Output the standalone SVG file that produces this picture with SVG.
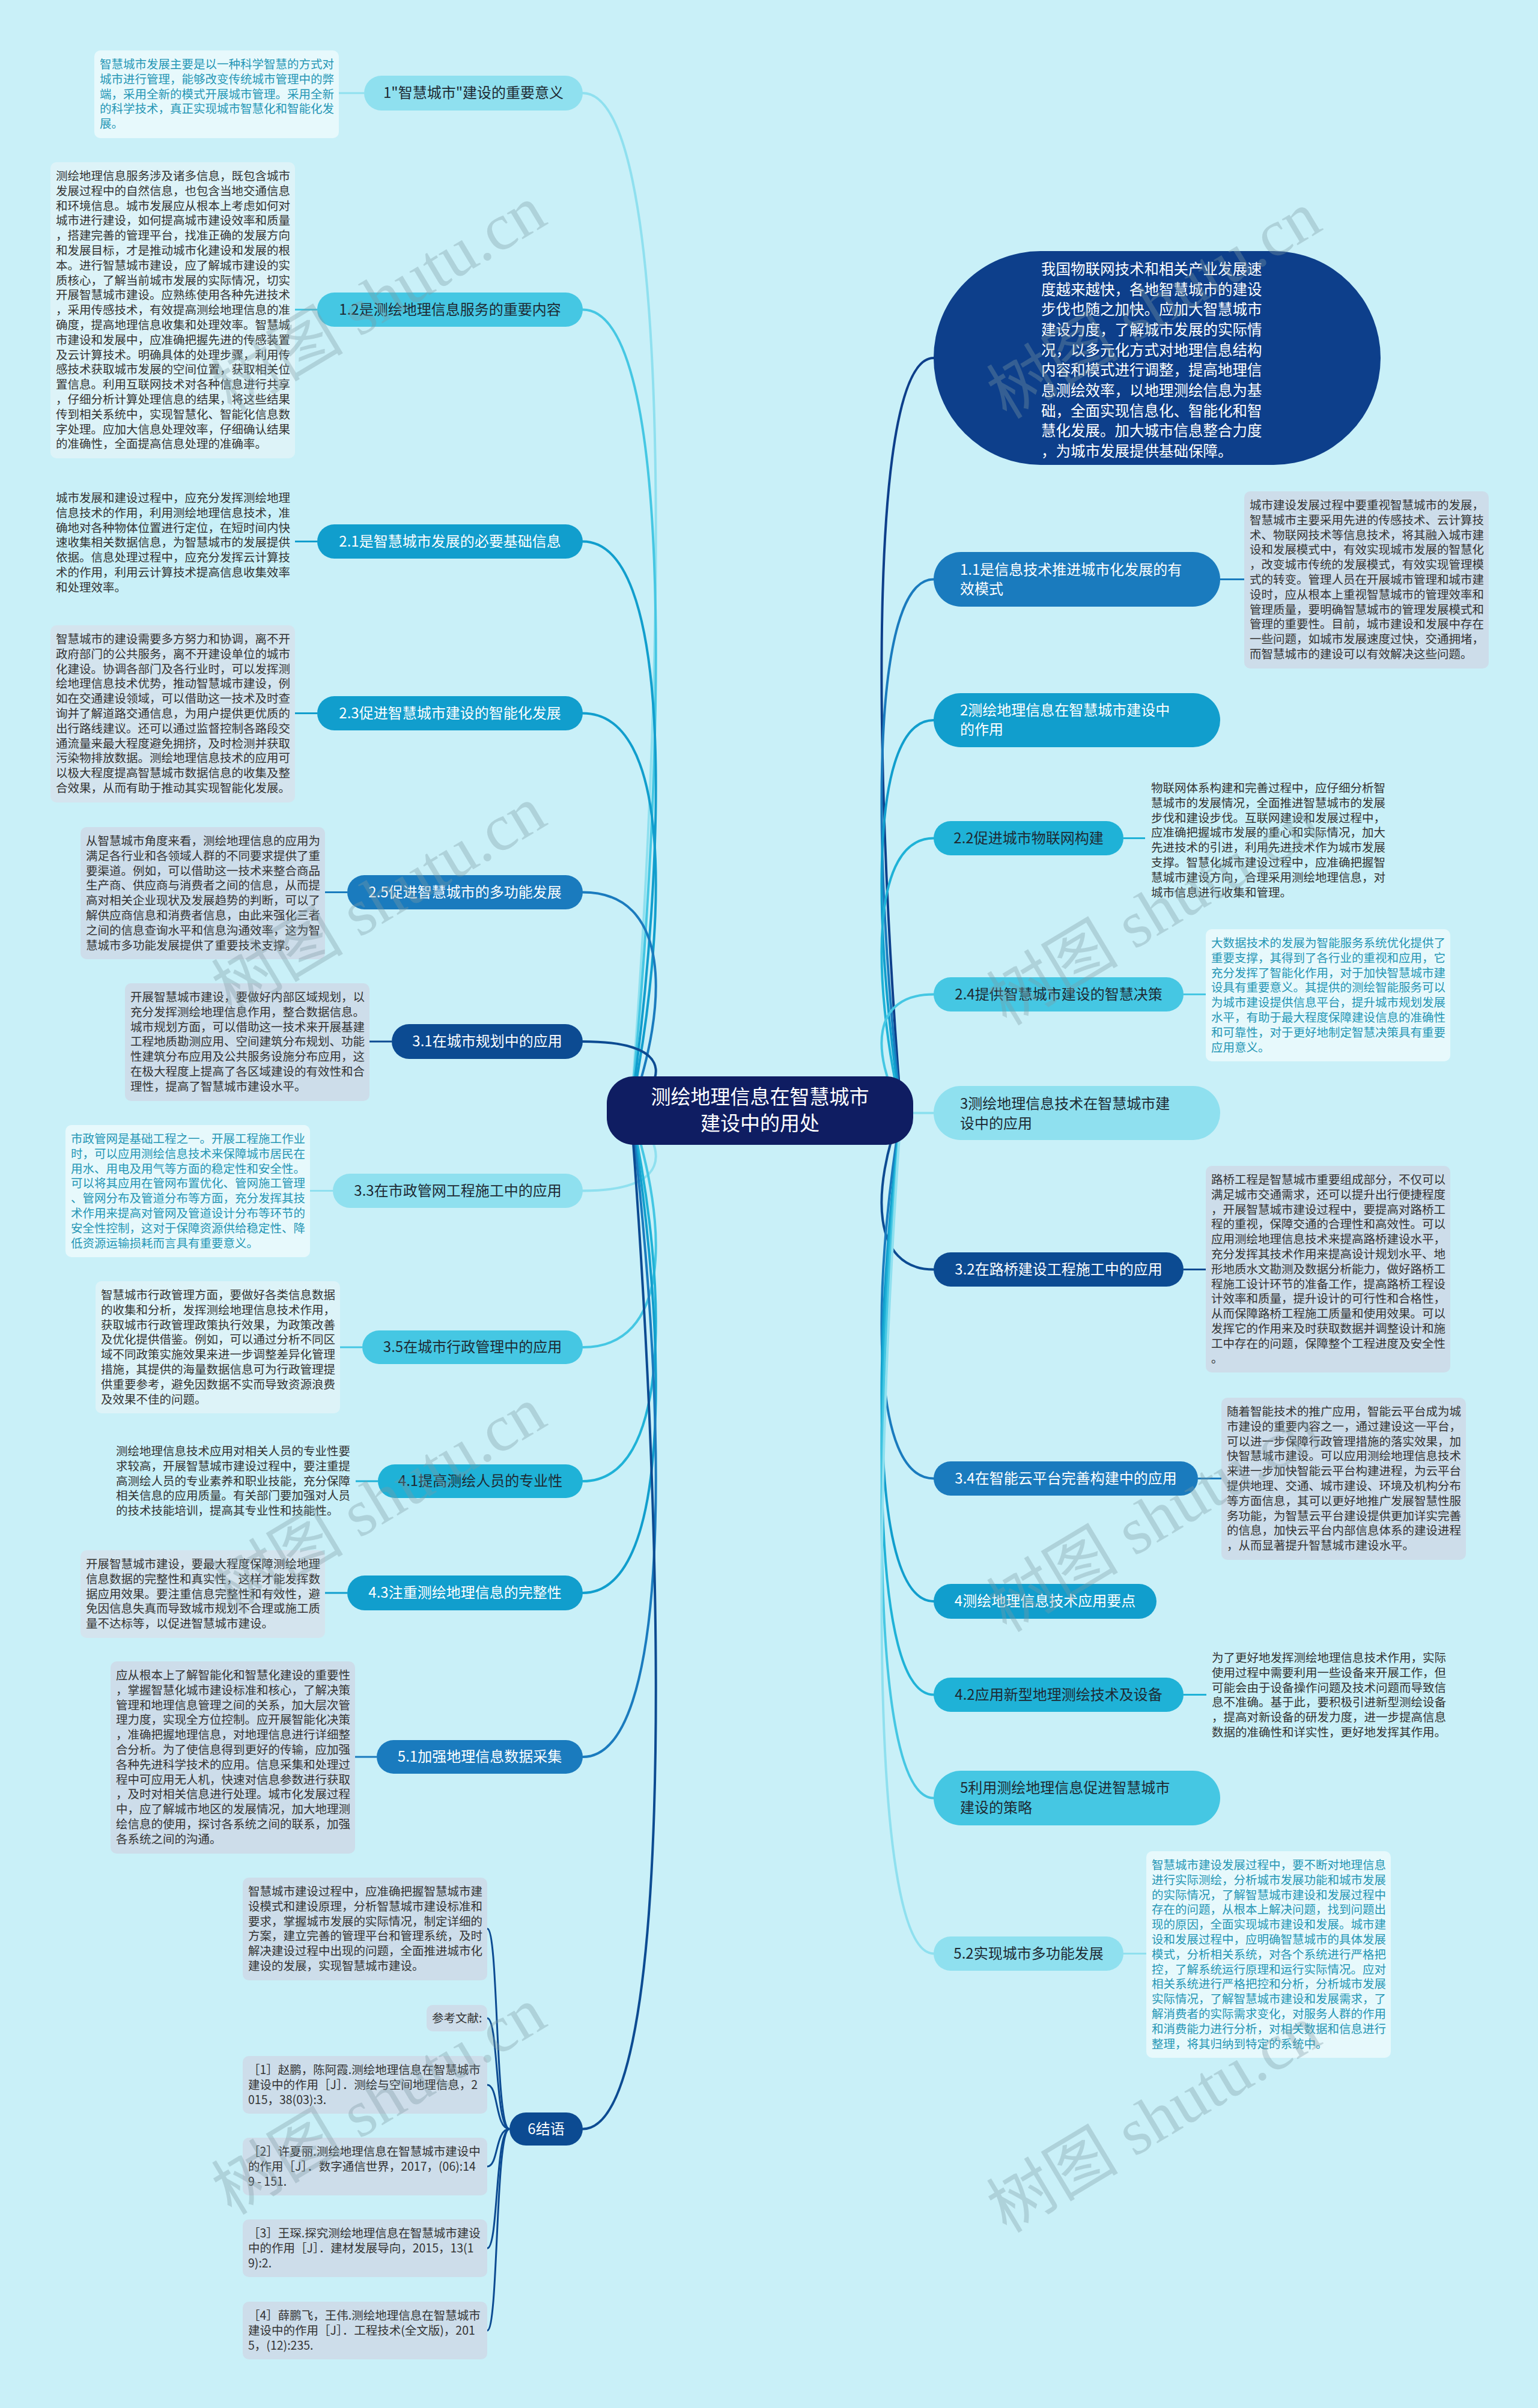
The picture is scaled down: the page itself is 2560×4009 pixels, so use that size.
<svg xmlns="http://www.w3.org/2000/svg" width="2560" height="4009" viewBox="0 0 2560 4009">
<style>
.d{font-family:"Noto Sans CJK SC","Noto Sans",sans-serif;font-size:19.5px}
.dk{fill:#333333}
.tl{fill:#2596b5}
.n{font-family:"Noto Sans CJK SC","Noto Sans",sans-serif;font-size:24px}
.c{text-anchor:middle}
.w{fill:#ffffff}
.b{fill:#1e2a33}
.navy{fill:#0c4b92}
.blue{fill:#1a7bbe}
.mid{fill:#119ecd}
.cyan{fill:#1fb2d7}
.light{fill:#45c7e3}
.pale{fill:#8fe0ef}
.bg{fill:#cdddea}
.bm{fill:#d4e4ee}
.bl{fill:#ddf3f8}
.bp{fill:#e7f9fc}
.ln{fill:none;stroke-width:4;stroke-linecap:round}
.sl{fill:none;stroke-width:3}
.wm{font-family:"Liberation Serif","Noto Sans CJK SC",serif;font-size:110px;fill:#7f9ba4;opacity:0.35}
</style>
<rect x="0" y="0" width="2560" height="4009" fill="#c9f0f8"/>

<g id="connectors">
<path class="ln" stroke="#8fe0ef" d="M1050,1849 C1115,1002 1115,155 970,155"/>
<path class="ln" stroke="#45c7e3" d="M1050,1849 C1115,1182 1115,515.5 970,515.5"/>
<path class="ln" stroke="#119ecd" d="M1050,1849 C1115,1375 1115,901.5 970,901.5"/>
<path class="ln" stroke="#119ecd" d="M1050,1849 C1115,1518 1115,1187.5 970,1187.5"/>
<path class="ln" stroke="#1a7bbe" d="M1050,1849 C1115,1667 1115,1485.5 970,1485.5"/>
<path class="ln" stroke="#0c4b92" d="M1050,1849 C1115,1791 1115,1734 970,1734"/>
<path class="ln" stroke="#8fe0ef" d="M1050,1849 C1115,1916 1115,1982.5 970,1982.5"/>
<path class="ln" stroke="#45c7e3" d="M1050,1849 C1115,2046 1115,2243 970,2243"/>
<path class="ln" stroke="#1fb2d7" d="M1050,1849 C1115,2157 1115,2466 970,2466"/>
<path class="ln" stroke="#119ecd" d="M1050,1849 C1115,2250 1115,2652 970,2652"/>
<path class="ln" stroke="#1a7bbe" d="M1050,1849 C1115,2387 1115,2925 970,2925"/>
<path class="ln" stroke="#0c4b92" d="M1050,1849 C1115,2697 1115,3544.5 970,3544.5"/>

<path class="ln" stroke="#0d3f8b" d="M1500,1849 C1450,1222 1450,596 1554,596"/>
<path class="ln" stroke="#1a7bbe" d="M1500,1849 C1450,1407 1450,964.5 1554,964.5"/>
<path class="ln" stroke="#119ecd" d="M1500,1849 C1450,1524 1450,1199 1554,1199"/>
<path class="ln" stroke="#1fb2d7" d="M1500,1849 C1450,1622 1450,1395.5 1554,1395.5"/>
<path class="ln" stroke="#45c7e3" d="M1500,1849 C1450,1752 1450,1655.5 1554,1655.5"/>
<path class="ln" stroke="#8fe0ef" d="M1500,1849 C1450,1851 1450,1853 1554,1853"/>
<path class="ln" stroke="#0c4b92" d="M1500,1849 C1450,1981 1450,2113.5 1554,2113.5"/>
<path class="ln" stroke="#1a7bbe" d="M1500,1849 C1450,2155 1450,2461.5 1554,2461.5"/>
<path class="ln" stroke="#119ecd" d="M1500,1849 C1450,2257 1450,2666 1554,2666"/>
<path class="ln" stroke="#1fb2d7" d="M1500,1849 C1450,2335 1450,2821.5 1554,2821.5"/>
<path class="ln" stroke="#45c7e3" d="M1500,1849 C1450,2421 1450,2993.5 1554,2993.5"/>
<path class="ln" stroke="#8fe0ef" d="M1500,1849 C1450,2551 1450,3252.5 1554,3252.5"/>

<path class="sl" stroke="#8fe0ef" d="M564,155 H606"/>
<path class="sl" stroke="#45c7e3" d="M491,515.5 H528"/>
<path class="sl" stroke="#119ecd" d="M491,901.5 H528"/>
<path class="sl" stroke="#119ecd" d="M491,1187.5 H528"/>
<path class="sl" stroke="#1a7bbe" d="M541,1485.5 H578"/>
<path class="sl" stroke="#0c4b92" d="M615,1734 H652"/>
<path class="sl" stroke="#8fe0ef" d="M516,1982.5 H554"/>
<path class="sl" stroke="#45c7e3" d="M566,2243 H603"/>
<path class="sl" stroke="#1fb2d7" d="M592,2466 H629"/>
<path class="sl" stroke="#119ecd" d="M541,2652 H578"/>
<path class="sl" stroke="#1a7bbe" d="M591,2925 H627"/>
<path class="sl" stroke="#1a7bbe" d="M2031,964.5 H2071"/>
<path class="sl" stroke="#1fb2d7" d="M1870,1395.5 H1906"/>
<path class="sl" stroke="#45c7e3" d="M1970,1655.5 H2007"/>
<path class="sl" stroke="#0c4b92" d="M1970,2113.5 H2007"/>
<path class="sl" stroke="#1a7bbe" d="M1994,2461.5 H2033"/>
<path class="sl" stroke="#1fb2d7" d="M1970,2821.5 H2008"/>
<path class="sl" stroke="#8fe0ef" d="M1870,3252.5 H1908"/>

<path class="sl" stroke="#0c4b92" d="M848,3544.5 C824,3544.5 830,3211 811,3211"/>
<path class="sl" stroke="#0c4b92" d="M848,3544.5 C824,3544.5 830,3360 811,3360"/>
<path class="sl" stroke="#0c4b92" d="M848,3544.5 C824,3544.5 830,3471 811,3471"/>
<path class="sl" stroke="#0c4b92" d="M848,3544.5 C824,3544.5 830,3607 811,3607"/>
<path class="sl" stroke="#0c4b92" d="M848,3544.5 C824,3544.5 830,3743 811,3743"/>
<path class="sl" stroke="#0c4b92" d="M848,3544.5 C824,3544.5 830,3880 811,3880"/>
</g>

<g id="center">
<rect x="1010" y="1792" width="510" height="114" rx="45" fill="#0f1d62"/>
<text class="n c w" style="font-size:33px" x="1265" y="1838">测绘地理信息在智慧城市</text>
<text class="n c w" style="font-size:33px" x="1265" y="1882">建设中的用处</text>
</g>

<g id="n1">
<rect class="pale" x="606" y="126" width="364" height="58" rx="29"/>
<text class="n c b" x="788" y="163">1"智慧城市"建设的重要意义</text>
</g>
<g id="d1">
<rect class="bp" x="157" y="84" width="407" height="146" rx="10"/>
<text class="d tl" x="166" y="114"><tspan x="166" dy="0">智慧城市发展主要是以一种科学智慧的方式对</tspan><tspan x="166" dy="24.8">城市进行管理，能够改变传统城市管理中的弊</tspan><tspan x="166" dy="24.8">端，采用全新的模式开展城市管理。采用全新</tspan><tspan x="166" dy="24.8">的科学技术，真正实现城市智慧化和智能化发</tspan><tspan x="166" dy="24.8">展。</tspan></text>
</g>

<g id="n1-2">
<rect class="light" x="528" y="487" width="442" height="57" rx="28.5"/>
<text class="n c b" x="749" y="523.5">1.2是测绘地理信息服务的重要内容</text>
</g>
<g id="d1-2">
<rect class="bl" x="84" y="270" width="407" height="493" rx="10"/>
<text class="d dk" x="93" y="300"><tspan x="93" dy="0">测绘地理信息服务涉及诸多信息，既包含城市</tspan><tspan x="93" dy="24.8">发展过程中的自然信息，也包含当地交通信息</tspan><tspan x="93" dy="24.8">和环境信息。城市发展应从根本上考虑如何对</tspan><tspan x="93" dy="24.8">城市进行建设，如何提高城市建设效率和质量</tspan><tspan x="93" dy="24.8">，搭建完善的管理平台，找准正确的发展方向</tspan><tspan x="93" dy="24.8">和发展目标，才是推动城市化建设和发展的根</tspan><tspan x="93" dy="24.8">本。进行智慧城市建设，应了解城市建设的实</tspan><tspan x="93" dy="24.8">质核心，了解当前城市发展的实际情况，切实</tspan><tspan x="93" dy="24.8">开展智慧城市建设。应熟练使用各种先进技术</tspan><tspan x="93" dy="24.8">，采用传感技术，有效提高测绘地理信息的准</tspan><tspan x="93" dy="24.8">确度，提高地理信息收集和处理效率。智慧城</tspan><tspan x="93" dy="24.8">市建设和发展中，应准确把握先进的传感装置</tspan><tspan x="93" dy="24.8">及云计算技术。明确具体的处理步骤，利用传</tspan><tspan x="93" dy="24.8">感技术获取城市发展的空间位置，获取相关位</tspan><tspan x="93" dy="24.8">置信息。利用互联网技术对各种信息进行共享</tspan><tspan x="93" dy="24.8">，仔细分析计算处理信息的结果，将这些结果</tspan><tspan x="93" dy="24.8">传到相关系统中，实现智慧化、智能化信息数</tspan><tspan x="93" dy="24.8">字处理。应加大信息处理效率，仔细确认结果</tspan><tspan x="93" dy="24.8">的准确性，全面提高信息处理的准确率。</tspan></text>
</g>

<g id="n2-1">
<rect class="mid" x="528" y="873" width="442" height="57" rx="28.5"/>
<text class="n c w" x="749" y="909.5">2.1是智慧城市发展的必要基础信息</text>
</g>
<g id="d2-1">
<text class="d dk" x="93" y="836"><tspan x="93" dy="0">城市发展和建设过程中，应充分发挥测绘地理</tspan><tspan x="93" dy="24.8">信息技术的作用，利用测绘地理信息技术，准</tspan><tspan x="93" dy="24.8">确地对各种物体位置进行定位，在短时间内快</tspan><tspan x="93" dy="24.8">速收集相关数据信息，为智慧城市的发展提供</tspan><tspan x="93" dy="24.8">依据。信息处理过程中，应充分发挥云计算技</tspan><tspan x="93" dy="24.8">术的作用，利用云计算技术提高信息收集效率</tspan><tspan x="93" dy="24.8">和处理效率。</tspan></text>
</g>

<g id="n2-3">
<rect class="mid" x="528" y="1159" width="442" height="57" rx="28.5"/>
<text class="n c w" x="749" y="1195.5">2.3促进智慧城市建设的智能化发展</text>
</g>
<g id="d2-3">
<rect class="bm" x="84" y="1041" width="407" height="295" rx="10"/>
<text class="d dk" x="93" y="1071"><tspan x="93" dy="0">智慧城市的建设需要多方努力和协调，离不开</tspan><tspan x="93" dy="24.8">政府部门的公共服务，离不开建设单位的城市</tspan><tspan x="93" dy="24.8">化建设。协调各部门及各行业时，可以发挥测</tspan><tspan x="93" dy="24.8">绘地理信息技术优势，推动智慧城市建设，例</tspan><tspan x="93" dy="24.8">如在交通建设领域，可以借助这一技术及时查</tspan><tspan x="93" dy="24.8">询并了解道路交通信息，为用户提供更优质的</tspan><tspan x="93" dy="24.8">出行路线建议。还可以通过监督控制各路段交</tspan><tspan x="93" dy="24.8">通流量来最大程度避免拥挤，及时检测并获取</tspan><tspan x="93" dy="24.8">污染物排放数据。测绘地理信息技术的应用可</tspan><tspan x="93" dy="24.8">以极大程度提高智慧城市数据信息的收集及整</tspan><tspan x="93" dy="24.8">合效果，从而有助于推动其实现智能化发展。</tspan></text>
</g>

<g id="n2-5">
<rect class="blue" x="578" y="1457" width="392" height="57" rx="28.5"/>
<text class="n c w" x="774" y="1493.5">2.5促进智慧城市的多功能发展</text>
</g>
<g id="d2-5">
<rect class="bg" x="134" y="1377" width="407" height="220" rx="10"/>
<text class="d dk" x="143" y="1407"><tspan x="143" dy="0">从智慧城市角度来看，测绘地理信息的应用为</tspan><tspan x="143" dy="24.8">满足各行业和各领域人群的不同要求提供了重</tspan><tspan x="143" dy="24.8">要渠道。例如，可以借助这一技术来整合商品</tspan><tspan x="143" dy="24.8">生产商、供应商与消费者之间的信息，从而提</tspan><tspan x="143" dy="24.8">高对相关企业现状及发展趋势的判断，可以了</tspan><tspan x="143" dy="24.8">解供应商信息和消费者信息，由此来强化三者</tspan><tspan x="143" dy="24.8">之间的信息查询水平和信息沟通效率，这为智</tspan><tspan x="143" dy="24.8">慧城市多功能发展提供了重要技术支撑。</tspan></text>
</g>

<g id="n3-1">
<rect class="navy" x="652" y="1705" width="318" height="58" rx="29"/>
<text class="n c w" x="811" y="1742">3.1在城市规划中的应用</text>
</g>
<g id="d3-1">
<rect class="bg" x="208" y="1637" width="407" height="196" rx="10"/>
<text class="d dk" x="217" y="1667"><tspan x="217" dy="0">开展智慧城市建设，要做好内部区域规划，以</tspan><tspan x="217" dy="24.8">充分发挥测绘地理信息作用，整合数据信息。</tspan><tspan x="217" dy="24.8">城市规划方面，可以借助这一技术来开展基建</tspan><tspan x="217" dy="24.8">工程地质勘测应用、空间建筑分布规划、功能</tspan><tspan x="217" dy="24.8">性建筑分布应用及公共服务设施分布应用，这</tspan><tspan x="217" dy="24.8">在极大程度上提高了各区域建设的有效性和合</tspan><tspan x="217" dy="24.8">理性，提高了智慧城市建设水平。</tspan></text>
</g>

<g id="n3-3">
<rect class="pale" x="554" y="1954" width="416" height="57" rx="28.5"/>
<text class="n c b" x="762" y="1990.5">3.3在市政管网工程施工中的应用</text>
</g>
<g id="d3-3">
<rect class="bp" x="109" y="1873" width="407" height="220" rx="10"/>
<text class="d tl" x="118" y="1903"><tspan x="118" dy="0">市政管网是基础工程之一。开展工程施工作业</tspan><tspan x="118" dy="24.8">时，可以应用测绘信息技术来保障城市居民在</tspan><tspan x="118" dy="24.8">用水、用电及用气等方面的稳定性和安全性。</tspan><tspan x="118" dy="24.8">可以将其应用在管网布置优化、管网施工管理</tspan><tspan x="118" dy="24.8">、管网分布及管道分布等方面，充分发挥其技</tspan><tspan x="118" dy="24.8">术作用来提高对管网及管道设计分布等环节的</tspan><tspan x="118" dy="24.8">安全性控制，这对于保障资源供给稳定性、降</tspan><tspan x="118" dy="24.8">低资源运输损耗而言具有重要意义。</tspan></text>
</g>

<g id="n3-5">
<rect class="light" x="603" y="2215" width="367" height="56" rx="28"/>
<text class="n c b" x="786.5" y="2251">3.5在城市行政管理中的应用</text>
</g>
<g id="d3-5">
<rect class="bl" x="159" y="2133" width="407" height="220" rx="10"/>
<text class="d dk" x="168" y="2163"><tspan x="168" dy="0">智慧城市行政管理方面，要做好各类信息数据</tspan><tspan x="168" dy="24.8">的收集和分析，发挥测绘地理信息技术作用，</tspan><tspan x="168" dy="24.8">获取城市行政管理政策执行效果，为政策改善</tspan><tspan x="168" dy="24.8">及优化提供借鉴。例如，可以通过分析不同区</tspan><tspan x="168" dy="24.8">域不同政策实施效果来进一步调整差异化管理</tspan><tspan x="168" dy="24.8">措施，其提供的海量数据信息可为行政管理提</tspan><tspan x="168" dy="24.8">供重要参考，避免因数据不实而导致资源浪费</tspan><tspan x="168" dy="24.8">及效果不佳的问题。</tspan></text>
</g>

<g id="n4-1">
<rect class="cyan" x="629" y="2438" width="341" height="56" rx="28"/>
<text class="n c b" x="799.5" y="2474">4.1提高测绘人员的专业性</text>
</g>
<g id="d4-1">
<text class="d dk" x="193" y="2423"><tspan x="193" dy="0">测绘地理信息技术应用对相关人员的专业性要</tspan><tspan x="193" dy="24.8">求较高，开展智慧城市建设过程中，要注重提</tspan><tspan x="193" dy="24.8">高测绘人员的专业素养和职业技能，充分保障</tspan><tspan x="193" dy="24.8">相关信息的应用质量。有关部门要加强对人员</tspan><tspan x="193" dy="24.8">的技术技能培训，提高其专业性和技能性。</tspan></text>
</g>

<g id="n4-3">
<rect class="mid" x="578" y="2623" width="392" height="58" rx="29"/>
<text class="n c w" x="774" y="2660">4.3注重测绘地理信息的完整性</text>
</g>
<g id="d4-3">
<rect class="bm" x="134" y="2581" width="407" height="146" rx="10"/>
<text class="d dk" x="143" y="2611"><tspan x="143" dy="0">开展智慧城市建设，要最大程度保障测绘地理</tspan><tspan x="143" dy="24.8">信息数据的完整性和真实性，这样才能发挥数</tspan><tspan x="143" dy="24.8">据应用效果。要注重信息完整性和有效性，避</tspan><tspan x="143" dy="24.8">免因信息失真而导致城市规划不合理或施工质</tspan><tspan x="143" dy="24.8">量不达标等，以促进智慧城市建设。</tspan></text>
</g>

<g id="n5-1">
<rect class="blue" x="627" y="2897" width="343" height="56" rx="28"/>
<text class="n c w" x="798.5" y="2933">5.1加强地理信息数据采集</text>
</g>
<g id="d5-1">
<rect class="bg" x="184" y="2766" width="407" height="320" rx="10"/>
<text class="d dk" x="193" y="2796"><tspan x="193" dy="0">应从根本上了解智能化和智慧化建设的重要性</tspan><tspan x="193" dy="24.8">，掌握智慧化城市建设标准和核心，了解决策</tspan><tspan x="193" dy="24.8">管理和地理信息管理之间的关系，加大层次管</tspan><tspan x="193" dy="24.8">理力度，实现全方位控制。应开展智能化决策</tspan><tspan x="193" dy="24.8">，准确把握地理信息，对地理信息进行详细整</tspan><tspan x="193" dy="24.8">合分析。为了使信息得到更好的传输，应加强</tspan><tspan x="193" dy="24.8">各种先进科学技术的应用。信息采集和处理过</tspan><tspan x="193" dy="24.8">程中可应用无人机，快速对信息参数进行获取</tspan><tspan x="193" dy="24.8">，及时对相关信息进行处理。城市化发展过程</tspan><tspan x="193" dy="24.8">中，应了解城市地区的发展情况，加大地理测</tspan><tspan x="193" dy="24.8">绘信息的使用，探讨各系统之间的联系，加强</tspan><tspan x="193" dy="24.8">各系统之间的沟通。</tspan></text>
</g>

<g id="n6">
<rect class="navy" x="848" y="3517" width="122" height="55" rx="27.5"/>
<text class="n c w" x="909" y="3553">6结语</text>
</g>
<g id="c6a">
<rect class="bg" x="404" y="3126" width="407" height="171" rx="10"/>
<text class="d dk" x="413" y="3156"><tspan x="413" dy="0">智慧城市建设过程中，应准确把握智慧城市建</tspan><tspan x="413" dy="24.8">设模式和建设原理，分析智慧城市建设标准和</tspan><tspan x="413" dy="24.8">要求，掌握城市发展的实际情况，制定详细的</tspan><tspan x="413" dy="24.8">方案，建立完善的管理平台和管理系统，及时</tspan><tspan x="413" dy="24.8">解决建设过程中出现的问题，全面推进城市化</tspan><tspan x="413" dy="24.8">建设的发展，实现智慧城市建设。</tspan></text>
</g>
<g id="c6b">
<rect class="bg" x="710" y="3338" width="101" height="44" rx="10"/>
<text class="d dk" x="719" y="3367">参考文献:</text>
</g>
<g id="c6c">
<rect class="bg" x="404" y="3423" width="407" height="96" rx="10"/>
<text class="d dk" x="413" y="3453"><tspan x="413" dy="0">［1］赵鹏，陈阿霞.测绘地理信息在智慧城市</tspan><tspan x="413" dy="24.8">建设中的作用［J］．测绘与空间地理信息，2</tspan><tspan x="413" dy="24.8">015，38(03):3.</tspan></text>
</g>
<g id="c6d">
<rect class="bg" x="404" y="3559" width="407" height="96" rx="10"/>
<text class="d dk" x="413" y="3589"><tspan x="413" dy="0">［2］许夏丽.测绘地理信息在智慧城市建设中</tspan><tspan x="413" dy="24.8">的作用［J］．数字通信世界，2017，(06):14</tspan><tspan x="413" dy="24.8">9 - 151.</tspan></text>
</g>
<g id="c6e">
<rect class="bg" x="404" y="3695" width="407" height="96" rx="10"/>
<text class="d dk" x="413" y="3725"><tspan x="413" dy="0">［3］王琛.探究测绘地理信息在智慧城市建设</tspan><tspan x="413" dy="24.8">中的作用［J］．建材发展导向，2015，13(1</tspan><tspan x="413" dy="24.8">9):2.</tspan></text>
</g>
<g id="c6f">
<rect class="bg" x="404" y="3832" width="407" height="96" rx="10"/>
<text class="d dk" x="413" y="3862"><tspan x="413" dy="0">［4］薛鹏飞，王伟.测绘地理信息在智慧城市</tspan><tspan x="413" dy="24.8">建设中的作用［J］．工程技术(全文版)，201</tspan><tspan x="413" dy="24.8">5，(12):235.</tspan></text>
</g>

<g id="n-intro">
<rect x="1554" y="418" width="744" height="356" rx="178" fill="#0d3f8b"/>
<text class="n w" style="font-size:24.5px" x="1733" y="457"><tspan x="1733" dy="0">我国物联网技术和相关产业发展速</tspan><tspan x="1733" dy="33.65">度越来越快，各地智慧城市的建设</tspan><tspan x="1733" dy="33.65">步伐也随之加快。应加大智慧城市</tspan><tspan x="1733" dy="33.65">建设力度，了解城市发展的实际情</tspan><tspan x="1733" dy="33.65">况，以多元化方式对地理信息结构</tspan><tspan x="1733" dy="33.65">内容和模式进行调整，提高地理信</tspan><tspan x="1733" dy="33.65">息测绘效率，以地理测绘信息为基</tspan><tspan x="1733" dy="33.65">础，全面实现信息化、智能化和智</tspan><tspan x="1733" dy="33.65">慧化发展。加大城市信息整合力度</tspan><tspan x="1733" dy="33.65">，为城市发展提供基础保障。</tspan></text>
</g>

<g id="n1-1">
<rect class="blue" x="1554" y="919" width="477" height="91" rx="45.5"/>
<text class="n w" x="1598" y="957"><tspan x="1598" dy="0">1.1是信息技术推进城市化发展的有</tspan><tspan x="1598" dy="32">效模式</tspan></text>
</g>
<g id="d1-1">
<rect class="bg" x="2071" y="818" width="407" height="295" rx="10"/>
<text class="d dk" x="2080" y="848"><tspan x="2080" dy="0">城市建设发展过程中要重视智慧城市的发展，</tspan><tspan x="2080" dy="24.8">智慧城市主要采用先进的传感技术、云计算技</tspan><tspan x="2080" dy="24.8">术、物联网技术等信息技术，将其融入城市建</tspan><tspan x="2080" dy="24.8">设和发展模式中，有效实现城市发展的智慧化</tspan><tspan x="2080" dy="24.8">，改变城市传统的发展模式，有效实现管理模</tspan><tspan x="2080" dy="24.8">式的转变。管理人员在开展城市管理和城市建</tspan><tspan x="2080" dy="24.8">设时，应从根本上重视智慧城市的管理效率和</tspan><tspan x="2080" dy="24.8">管理质量，要明确智慧城市的管理发展模式和</tspan><tspan x="2080" dy="24.8">管理的重要性。目前，城市建设和发展中存在</tspan><tspan x="2080" dy="24.8">一些问题，如城市发展速度过快，交通拥堵，</tspan><tspan x="2080" dy="24.8">而智慧城市的建设可以有效解决这些问题。</tspan></text>
</g>

<g id="n2">
<rect class="mid" x="1554" y="1154" width="477" height="90" rx="45"/>
<text class="n w" x="1598" y="1191"><tspan x="1598" dy="0">2测绘地理信息在智慧城市建设中</tspan><tspan x="1598" dy="32">的作用</tspan></text>
</g>

<g id="n2-2">
<rect class="cyan" x="1554" y="1367" width="316" height="57" rx="28.5"/>
<text class="n c b" x="1712" y="1403.5">2.2促进城市物联网构建</text>
</g>
<g id="d2-2">
<text class="d dk" x="1916" y="1319"><tspan x="1916" dy="0">物联网体系构建和完善过程中，应仔细分析智</tspan><tspan x="1916" dy="24.8">慧城市的发展情况，全面推进智慧城市的发展</tspan><tspan x="1916" dy="24.8">步伐和建设步伐。互联网建设和发展过程中，</tspan><tspan x="1916" dy="24.8">应准确把握城市发展的重心和实际情况，加大</tspan><tspan x="1916" dy="24.8">先进技术的引进，利用先进技术作为城市发展</tspan><tspan x="1916" dy="24.8">支撑。智慧化城市建设过程中，应准确把握智</tspan><tspan x="1916" dy="24.8">慧城市建设方向，合理采用测绘地理信息，对</tspan><tspan x="1916" dy="24.8">城市信息进行收集和管理。</tspan></text>
</g>

<g id="n2-4">
<rect class="light" x="1554" y="1627" width="416" height="57" rx="28.5"/>
<text class="n c b" x="1762" y="1663.5">2.4提供智慧城市建设的智慧决策</text>
</g>
<g id="d2-4">
<rect class="bp" x="2007" y="1547" width="407" height="220" rx="10"/>
<text class="d tl" x="2016" y="1577"><tspan x="2016" dy="0">大数据技术的发展为智能服务系统优化提供了</tspan><tspan x="2016" dy="24.8">重要支撑，其得到了各行业的重视和应用，它</tspan><tspan x="2016" dy="24.8">充分发挥了智能化作用，对于加快智慧城市建</tspan><tspan x="2016" dy="24.8">设具有重要意义。其提供的测绘智能服务可以</tspan><tspan x="2016" dy="24.8">为城市建设提供信息平台，提升城市规划发展</tspan><tspan x="2016" dy="24.8">水平，有助于最大程度保障建设信息的准确性</tspan><tspan x="2016" dy="24.8">和可靠性，对于更好地制定智慧决策具有重要</tspan><tspan x="2016" dy="24.8">应用意义。</tspan></text>
</g>

<g id="n3">
<rect class="pale" x="1554" y="1808" width="477" height="90" rx="45"/>
<text class="n b" x="1598" y="1846"><tspan x="1598" dy="0">3测绘地理信息技术在智慧城市建</tspan><tspan x="1598" dy="33">设中的应用</tspan></text>
</g>

<g id="n3-2">
<rect class="navy" x="1554" y="2085" width="416" height="57" rx="28.5"/>
<text class="n c w" x="1762" y="2121.5">3.2在路桥建设工程施工中的应用</text>
</g>
<g id="d3-2">
<rect class="bg" x="2007" y="1941" width="407" height="344" rx="10"/>
<text class="d dk" x="2016" y="1971"><tspan x="2016" dy="0">路桥工程是智慧城市重要组成部分，不仅可以</tspan><tspan x="2016" dy="24.8">满足城市交通需求，还可以提升出行便捷程度</tspan><tspan x="2016" dy="24.8">，开展智慧城市建设过程中，要提高对路桥工</tspan><tspan x="2016" dy="24.8">程的重视，保障交通的合理性和高效性。可以</tspan><tspan x="2016" dy="24.8">应用测绘地理信息技术来提高路桥建设水平，</tspan><tspan x="2016" dy="24.8">充分发挥其技术作用来提高设计规划水平、地</tspan><tspan x="2016" dy="24.8">形地质水文勘测及数据分析能力，做好路桥工</tspan><tspan x="2016" dy="24.8">程施工设计环节的准备工作，提高路桥工程设</tspan><tspan x="2016" dy="24.8">计效率和质量，提升设计的可行性和合格性，</tspan><tspan x="2016" dy="24.8">从而保障路桥工程施工质量和使用效果。可以</tspan><tspan x="2016" dy="24.8">发挥它的作用来及时获取数据并调整设计和施</tspan><tspan x="2016" dy="24.8">工中存在的问题，保障整个工程进度及安全性</tspan><tspan x="2016" dy="24.8">。</tspan></text>
</g>

<g id="n3-4">
<rect class="blue" x="1554" y="2433" width="440" height="57" rx="28.5"/>
<text class="n c w" x="1774" y="2469.5">3.4在智能云平台完善构建中的应用</text>
</g>
<g id="d3-4">
<rect class="bg" x="2033" y="2327" width="407" height="270" rx="10"/>
<text class="d dk" x="2042" y="2357"><tspan x="2042" dy="0">随着智能技术的推广应用，智能云平台成为城</tspan><tspan x="2042" dy="24.8">市建设的重要内容之一，通过建设这一平台，</tspan><tspan x="2042" dy="24.8">可以进一步保障行政管理措施的落实效果，加</tspan><tspan x="2042" dy="24.8">快智慧城市建设。可以应用测绘地理信息技术</tspan><tspan x="2042" dy="24.8">来进一步加快智能云平台构建进程，为云平台</tspan><tspan x="2042" dy="24.8">提供地理、交通、城市建设、环境及机构分布</tspan><tspan x="2042" dy="24.8">等方面信息，其可以更好地推广发展智慧性服</tspan><tspan x="2042" dy="24.8">务功能，为智慧云平台建设提供更加详实完善</tspan><tspan x="2042" dy="24.8">的信息，加快云平台内部信息体系的建设进程</tspan><tspan x="2042" dy="24.8">，从而显著提升智慧城市建设水平。</tspan></text>
</g>

<g id="n4">
<rect class="mid" x="1554" y="2637" width="371" height="58" rx="29"/>
<text class="n c w" x="1739.5" y="2674">4测绘地理信息技术应用要点</text>
</g>

<g id="n4-2">
<rect class="cyan" x="1554" y="2793" width="416" height="57" rx="28.5"/>
<text class="n c b" x="1762" y="2829.5">4.2应用新型地理测绘技术及设备</text>
</g>
<g id="d4-2">
<text class="d dk" x="2017" y="2767"><tspan x="2017" dy="0">为了更好地发挥测绘地理信息技术作用，实际</tspan><tspan x="2017" dy="24.8">使用过程中需要利用一些设备来开展工作，但</tspan><tspan x="2017" dy="24.8">可能会由于设备操作问题及技术问题而导致信</tspan><tspan x="2017" dy="24.8">息不准确。基于此，要积极引进新型测绘设备</tspan><tspan x="2017" dy="24.8">，提高对新设备的研发力度，进一步提高信息</tspan><tspan x="2017" dy="24.8">数据的准确性和详实性，更好地发挥其作用。</tspan></text>
</g>

<g id="n5">
<rect class="light" x="1554" y="2948" width="477" height="91" rx="45.5"/>
<text class="n b" x="1598" y="2985"><tspan x="1598" dy="0">5利用测绘地理信息促进智慧城市</tspan><tspan x="1598" dy="33">建设的策略</tspan></text>
</g>

<g id="n5-2">
<rect class="pale" x="1554" y="3224" width="316" height="57" rx="28.5"/>
<text class="n c b" x="1712" y="3260.5">5.2实现城市多功能发展</text>
</g>
<g id="d5-2">
<rect class="bp" x="1908" y="3082" width="407" height="344" rx="10"/>
<text class="d tl" x="1917" y="3112"><tspan x="1917" dy="0">智慧城市建设发展过程中，要不断对地理信息</tspan><tspan x="1917" dy="24.8">进行实际测绘，分析城市发展功能和城市发展</tspan><tspan x="1917" dy="24.8">的实际情况，了解智慧城市建设和发展过程中</tspan><tspan x="1917" dy="24.8">存在的问题，从根本上解决问题，找到问题出</tspan><tspan x="1917" dy="24.8">现的原因，全面实现城市建设和发展。城市建</tspan><tspan x="1917" dy="24.8">设和发展过程中，应明确智慧城市的具体发展</tspan><tspan x="1917" dy="24.8">模式，分析相关系统，对各个系统进行严格把</tspan><tspan x="1917" dy="24.8">控，了解系统运行原理和运行实际情况。应对</tspan><tspan x="1917" dy="24.8">相关系统进行严格把控和分析，分析城市发展</tspan><tspan x="1917" dy="24.8">实际情况，了解智慧城市建设和发展需求，了</tspan><tspan x="1917" dy="24.8">解消费者的实际需求变化，对服务人群的作用</tspan><tspan x="1917" dy="24.8">和消费能力进行分析，对相关数据和信息进行</tspan><tspan x="1917" dy="24.8">整理，将其归纳到特定的系统中。</tspan></text>
</g>

<g id="watermark">
<text class="wm c" transform="translate(650,530) rotate(-31)">树图 shutu.cn</text>
<text class="wm c" transform="translate(650,1530) rotate(-31)">树图 shutu.cn</text>
<text class="wm c" transform="translate(650,2530) rotate(-31)">树图 shutu.cn</text>
<text class="wm c" transform="translate(650,3530) rotate(-31)">树图 shutu.cn</text>
<text class="wm c" transform="translate(1940,540) rotate(-31)">树图 shutu.cn</text>
<text class="wm c" transform="translate(1940,1550) rotate(-31)">树图 shutu.cn</text>
<text class="wm c" transform="translate(1940,2560) rotate(-31)">树图 shutu.cn</text>
<text class="wm c" transform="translate(1940,3560) rotate(-31)">树图 shutu.cn</text>
</g>
</svg>
